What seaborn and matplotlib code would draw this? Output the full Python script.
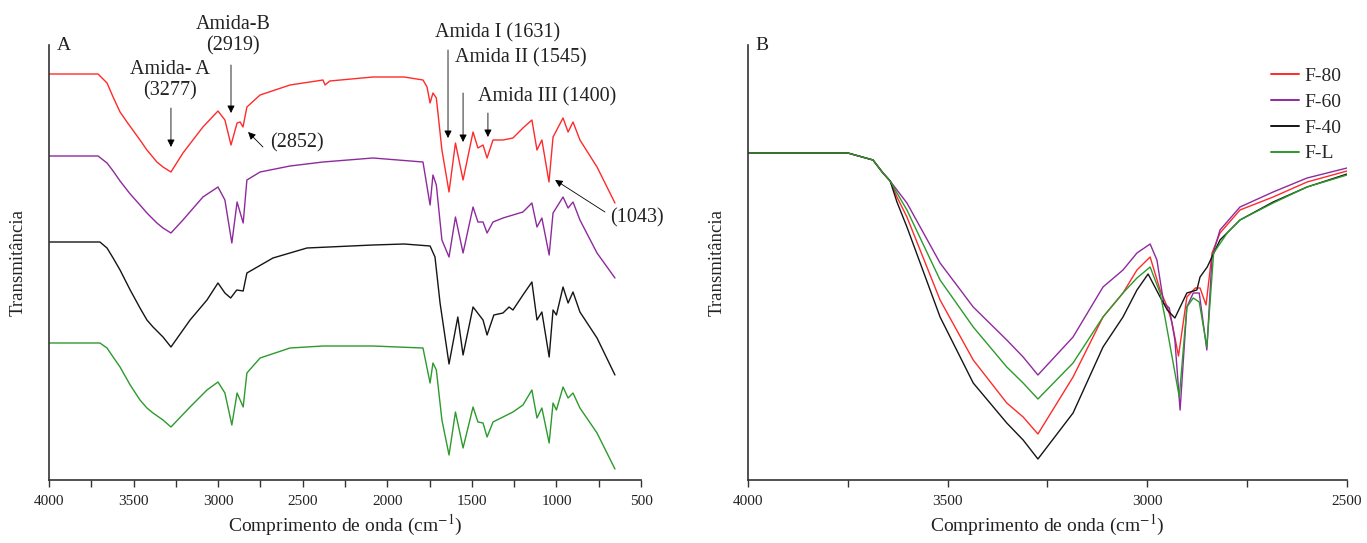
import numpy as np
import pandas as pd
import matplotlib
matplotlib.use("Agg")
import matplotlib.pyplot as plt
from matplotlib.ticker import MultipleLocator
import seaborn as sns

# ---------------- Data (panel A: full spectra, arbitrary transmittance units, stacked) ----------------
a_f80_wn = [4000, 3850, 3710, 3657, 3621, 3580, 3539, 3462, 3421, 3362, 3326, 3279, 3208, 3090, 3001, 2960,
            2924, 2888, 2870, 2853, 2830, 2752, 2575, 2380, 2368, 2340, 2085, 1900, 1789, 1765, 1747, 1730,
            1710, 1677, 1635, 1597, 1552, 1493, 1464, 1434, 1410, 1375, 1316, 1257, 1198, 1145, 1115, 1086,
            1044, 1020, 961, 931, 902, 861, 760, 654]
a_f80_t = [406, 406, 406, 397, 383, 368, 358, 340, 330, 318, 313, 308, 327, 353, 369, 360,
           335, 357, 358, 353, 373, 385, 395, 400, 395, 399, 403, 403, 400, 393, 377, 387,
           382, 330, 288, 337, 300, 348, 332, 335, 322, 340, 340, 342, 352, 360, 330, 340,
           298, 343, 362, 348, 358, 340, 313, 277]

a_f60_wn = [4000, 3710, 3657, 3621, 3580, 3520, 3462, 3421, 3362, 3326, 3279, 3208, 3090, 3001, 2960, 2919,
            2888, 2852, 2830, 2752, 2575, 2380, 2085, 1789, 1747, 1730, 1710, 1677, 1635, 1597, 1552, 1493,
            1464, 1434, 1410, 1375, 1316, 1257, 1198, 1145, 1115, 1086, 1043, 1020, 961, 931, 902, 861,
            760, 654]
a_f60_t = [324, 324, 317, 309, 299, 286, 275, 267, 257, 252, 247, 260, 283, 293, 280, 237,
           278, 257, 300, 308, 314, 318, 322, 318, 275, 305, 295, 240, 223, 263, 227, 273,
           258, 258, 247, 258, 262, 265, 268, 277, 253, 262, 225, 267, 283, 272, 278, 260,
           227, 202]

a_f40_wn = [4000, 3699, 3657, 3621, 3580, 3520, 3462, 3421, 3385, 3326, 3279, 3166, 3066, 3001, 2960, 2926,
            2890, 2852, 2830, 2676, 2475, 2085, 1900, 1747, 1718, 1688, 1635, 1583, 1552, 1493, 1434, 1410,
            1370, 1316, 1280, 1257, 1198, 1145, 1115, 1086, 1043, 1020, 1000, 961, 931, 902, 861, 760, 654]
a_f40_t = [238, 238, 232, 222, 210, 190, 172, 160, 153, 143, 133, 160, 180, 197, 187, 182,
           190, 189, 207, 222, 232, 235, 236, 234, 223, 177, 116, 163, 125, 173, 160, 145,
           165, 167, 173, 170, 185, 198, 160, 168, 123, 170, 165, 193, 177, 188, 168, 142, 105]

a_fl_wn = [4000, 3699, 3657, 3621, 3580, 3520, 3462, 3421, 3385, 3326, 3279, 3166, 3066, 3001, 2960, 2919,
           2888, 2852, 2830, 2752, 2575, 2380, 2085, 1789, 1747, 1730, 1710, 1677, 1635, 1597, 1552, 1493,
           1464, 1434, 1410, 1375, 1316, 1257, 1198, 1145, 1115, 1086, 1043, 1020, 1000, 961, 931, 902,
           861, 760, 654]
a_fl_t = [137, 137, 132, 123, 113, 95, 80, 72, 67, 60, 53, 73, 90, 98, 87, 55,
          87, 73, 107, 122, 132, 134, 134, 132, 97, 117, 110, 60, 25, 68, 32, 73,
          58, 57, 43, 58, 63, 68, 75, 90, 62, 72, 37, 77, 70, 93, 82, 87,
          72, 47, 11]

# ---------------- Data (panel B: 4000-2500 zoom, overlaid) ----------------
b_wn_start = [4000, 3750, 3687, 3662, 3644]
b_t_start = [327, 327, 320, 307, 299]

b_f80_wn = [3627, 3602, 3519, 3436, 3352, 3311, 3274, 3186, 3111, 3061, 3026, 2993, 2968, 2950, 2938, 2922,
            2901, 2880, 2868, 2853, 2838, 2818, 2768, 2685, 2600, 2500]
b_f80_t = [283, 263, 180, 120, 77, 63, 46, 103, 163, 187, 210, 223, 190, 173, 157, 124,
           183, 192, 192, 175, 227, 247, 270, 283, 298, 309]

b_f60_wn = [3627, 3602, 3519, 3436, 3352, 3311, 3274, 3186, 3111, 3061, 3026, 2993, 2976, 2959, 2945, 2931,
            2918, 2901, 2885, 2870, 2851, 2838, 2818, 2768, 2685, 2600, 2500]
b_f60_t = [290, 277, 217, 173, 140, 123, 105, 143, 193, 210, 227, 236, 220, 177, 172, 140,
           70, 173, 187, 187, 130, 223, 250, 273, 288, 302, 312]

b_f40_wn = [3627, 3602, 3519, 3436, 3352, 3311, 3274, 3186, 3111, 3061, 3026, 2998, 2968, 2950, 2931, 2901,
            2876, 2868, 2850, 2818, 2768, 2685, 2600, 2500]
b_f40_t = [278, 253, 163, 97, 57, 40, 21, 67, 133, 163, 190, 206, 183, 170, 162, 187,
           190, 203, 213, 240, 260, 278, 293, 306]

b_fl_wn = [3627, 3602, 3519, 3436, 3352, 3311, 3274, 3186, 3111, 3061, 3026, 2993, 2968, 2956, 2920, 2901,
           2885, 2870, 2851, 2834, 2800, 2768, 2685, 2600, 2500]
b_fl_t = [287, 270, 200, 153, 113, 97, 81, 117, 163, 187, 202, 213, 187, 163, 83, 173,
          182, 178, 133, 227, 247, 260, 277, 293, 305]

series_names = ["F-80", "F-60", "F-40", "F-L"]
colors = {"F-80": "#ff2a2a", "F-60": "#8e2a9e", "F-40": "#151515", "F-L": "#2c9a2c"}

xlabel = "Comprimento de onda (cm$^{-1}$)"
ylabel = "Transmitância"

# ---------------- Build tables ----------------
def frame(pairs):
    rows = []
    for name, wn, t in pairs:
        for w, v in zip(wn, t):
            rows.append({"wn": w, "T": v, "amostra": name})
    return pd.DataFrame(rows)

df_a = frame([("F-80", a_f80_wn, a_f80_t), ("F-60", a_f60_wn, a_f60_t),
              ("F-40", a_f40_wn, a_f40_t), ("F-L", a_fl_wn, a_fl_t)])
df_b = frame([("F-80", b_wn_start + b_f80_wn, b_t_start + b_f80_t),
              ("F-60", b_wn_start + b_f60_wn, b_t_start + b_f60_t),
              ("F-40", b_wn_start + b_f40_wn, b_t_start + b_f40_t),
              ("F-L", b_wn_start + b_fl_wn, b_t_start + b_fl_t)])

# ---------------- Plot ----------------
sns.set_theme(style="ticks")
plt.rcParams["font.family"] = ["Liberation Serif", "DejaVu Serif"]
plt.rcParams["mathtext.fontset"] = "stix"

fig = plt.figure(figsize=(13.67, 5.43), dpi=100)
axA = fig.add_axes([49 / 1367, 1 - 480 / 543, (641 - 49) / 1367, 435 / 543])
axB = fig.add_axes([748 / 1367, 1 - 480 / 543, (1347 - 748) / 1367, 435 / 543])

sns.lineplot(data=df_a, x="wn", y="T", hue="amostra", hue_order=series_names, palette=colors,
             ax=axA, linewidth=1.0, legend=False, estimator=None)
sns.lineplot(data=df_b, x="wn", y="T", hue="amostra", hue_order=series_names, palette=colors,
             ax=axB, linewidth=1.0, legend=True, estimator=None)

for ax, (x0, x1), lab in [(axA, (4000, 500), "A"), (axB, (4000, 2500), "B")]:
    ax.set_xlim(x0, x1)
    ax.set_ylim(0, 435)
    ax.set_yticks([])
    ax.xaxis.set_major_locator(MultipleLocator(500))
    ax.xaxis.set_minor_locator(MultipleLocator(250))
    ax.tick_params(axis="x", which="both", direction="out", length=5, width=1, color="#333333",
                   labelsize=11, pad=6, labelcolor="#222222")
    for s in ["top", "right"]:
        ax.spines[s].set_visible(False)
    for s in ["left", "bottom"]:
        ax.spines[s].set_color("#333333")
        ax.spines[s].set_linewidth(1.2)
    ax.set_xlabel(xlabel, fontsize=14, labelpad=3, color="#222222")
    ax.set_ylabel(ylabel, fontsize=13.5, labelpad=16, color="#222222")
    ax.text(0.013, 1.0, lab, transform=ax.transAxes, ha="left", va="center", fontsize=14, color="#222222")

# Legend on panel B
leg = axB.legend(loc="upper right", bbox_to_anchor=(1.01, 0.975), frameon=False, fontsize=14,
                 handlelength=1.45, handletextpad=0.25, labelspacing=0.42, borderaxespad=0.2)
for line in leg.get_lines():
    line.set_linewidth(1.4)

# Annotations on panel A
fs = 14.5
tc = "#222222"
arr = dict(arrowstyle="-|>", color="black", lw=0.6, mutation_scale=11, shrinkA=0, shrinkB=0)

axA.text(3285, 400, "Amida- A\n(3277)", ha="center", va="center", fontsize=fs, color=tc,
         linespacing=1.15, clip_on=False)
axA.annotate("", xy=(3279, 333), xytext=(3279, 372), arrowprops=arr, annotation_clip=False)

axA.text(2912, 445, "Amida-B\n(2919)", ha="center", va="center", fontsize=fs, color=tc,
         linespacing=1.15, clip_on=False)
axA.annotate("", xy=(2924, 367), xytext=(2924, 415), arrowprops=arr, annotation_clip=False)

axA.text(2534, 337, "(2852)", ha="center", va="center", fontsize=fs, color=tc, clip_on=False)
axA.annotate("", xy=(2823, 348), xytext=(2735, 333), arrowprops=arr, annotation_clip=False)

axA.text(1718, 447, "Amida I (1631)", ha="left", va="center", fontsize=fs, color=tc, clip_on=False)
axA.annotate("", xy=(1641, 342), xytext=(1641, 430), arrowprops=arr, annotation_clip=False)

axA.text(1600, 422, "Amida II (1545)", ha="left", va="center", fontsize=fs, color=tc, clip_on=False)
axA.annotate("", xy=(1552, 338), xytext=(1552, 387), arrowprops=arr, annotation_clip=False)

axA.text(1464, 383, "Amida III (1400)", ha="left", va="center", fontsize=fs, color=tc, clip_on=False)
axA.annotate("", xy=(1405, 343), xytext=(1405, 367), arrowprops=arr, annotation_clip=False)

axA.text(683, 262, "(1043)", ha="left", va="center", fontsize=fs, color=tc, clip_on=False)
axA.annotate("", xy=(1008, 300), xytext=(713, 268), arrowprops=arr, annotation_clip=False)

fig.savefig("out.png", dpi=100, facecolor="white")
